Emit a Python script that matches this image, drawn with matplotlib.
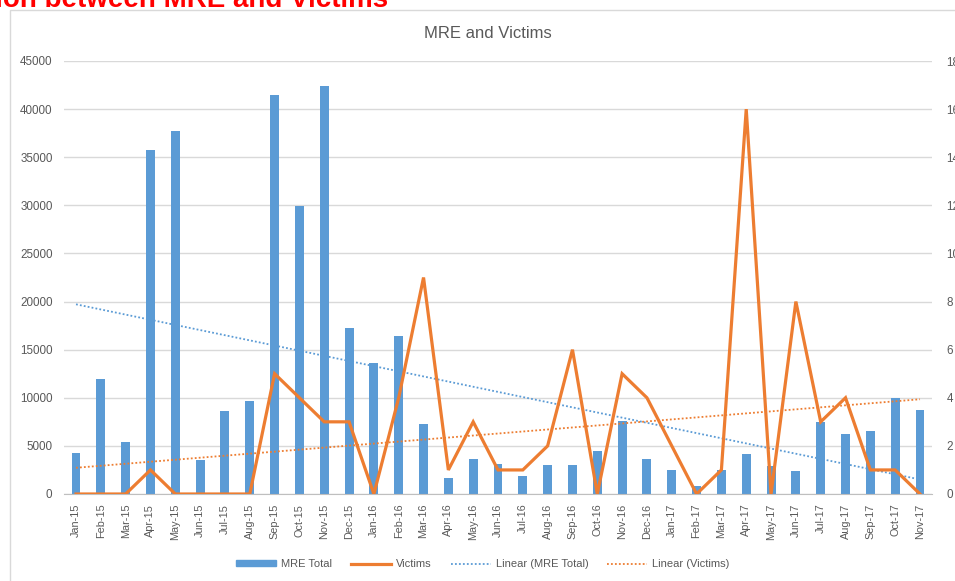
import numpy as np
import matplotlib
matplotlib.use("Agg")
import matplotlib.pyplot as plt
from matplotlib.patches import Rectangle
from matplotlib.lines import Line2D

plt.rcParams['font.family'] = ['Liberation Sans', 'DejaVu Sans']

months = ["Jan-15", "Feb-15", "Mar-15", "Apr-15", "May-15", "Jun-15", "Jul-15", "Aug-15",
          "Sep-15", "Oct-15", "Nov-15", "Dec-15", "Jan-16", "Feb-16", "Mar-16", "Apr-16",
          "May-16", "Jun-16", "Jul-16", "Aug-16", "Sep-16", "Oct-16", "Nov-16", "Dec-16",
          "Jan-17", "Feb-17", "Mar-17", "Apr-17", "May-17", "Jun-17", "Jul-17", "Aug-17",
          "Sep-17", "Oct-17", "Nov-17"]
mre_total = [4300, 12000, 5400, 35700, 37700, 3500, 8600, 9700,
             41500, 29900, 42400, 17200, 13600, 16400, 7300, 1700,
             3600, 3100, 1900, 3000, 3000, 4500, 7600, 3600,
             2500, 800, 2500, 4200, 2900, 2400, 7500, 6200,
             6500, 10000, 8700]
victims = [0, 0, 0, 1, 0, 0, 0, 0,
           5, 4, 3, 3, 0, 4, 9, 1,
           3, 1, 1, 2, 6, 0, 5, 4,
           2, 0, 1, 16, 0, 8, 3, 4,
           1, 1, 0]
left_ticks = [0, 5000, 10000, 15000, 20000, 25000, 30000, 35000, 40000, 45000]
right_ticks = [0, 2, 4, 6, 8, 10, 12, 14, 16, 18]

BLUE = "#5B9BD5"
ORANGE = "#ED7D31"
GRAY = "#595959"

W, H = 955, 581
fig = plt.figure(figsize=(W / 100, H / 100), dpi=100)

# chart frame
fig.patches.append(Rectangle((10 / W, -0.1), 2, 1 - 10 / H + 0.1, transform=fig.transFigure,
                             fill=False, edgecolor="#D9D9D9", lw=1))

# clipped red heading
fig.text(388 / W, 1 - 7 / H, "Correlation between MRE and Victims", ha="right", va="baseline",
         color="#FF0000", fontsize=20, fontweight="bold")

ax_l, ax_r = 63.6 / W, 932.4 / W
ax_b, ax_t = 1 - 494 / H, 1 - 61 / H
ax = fig.add_axes([ax_l, ax_b, ax_r - ax_l, ax_t - ax_b])
ax2 = ax.twinx()

x = np.arange(len(months))
ax.bar(x, mre_total, width=0.36, color=BLUE, zorder=2)
ax2.plot(x, victims, color=ORANGE, lw=2.3, zorder=3, solid_joinstyle="miter")

# linear trendlines
p1 = np.polyfit(x, mre_total, 1)
p2 = np.polyfit(x, victims, 1)
ax.plot(x, np.polyval(p1, x), color=BLUE, lw=1.3, ls=(0, (1, 1.2)), zorder=3)
ax2.plot(x, np.polyval(p2, x), color=ORANGE, lw=1.3, ls=(0, (1, 1.2)), zorder=3)

ax.set_xlim(-0.5, len(months) - 0.5)
ax.set_ylim(0, 45000)
ax2.set_ylim(0, 18)
ax.set_yticks(left_ticks)
ax2.set_yticks(right_ticks)
ax.set_yticklabels([str(v) for v in left_ticks])
ax2.set_yticklabels([str(v) for v in right_ticks])
ax.grid(axis="y", color="#D9D9D9", lw=1, zorder=0)
ax.set_axisbelow(True)
ax.set_xticks(x)
ax.set_xticklabels(months, rotation=90, fontsize=7.8, color=GRAY)
ax.tick_params(axis="y", length=0, pad=8, labelsize=8.4, labelcolor=GRAY)
ax2.tick_params(axis="y", length=0, pad=10, labelsize=8.4, labelcolor=GRAY)
ax.tick_params(axis="x", length=0, pad=7)
for a in (ax, ax2):
    for s in ("top", "left", "right"):
        a.spines[s].set_visible(False)
    a.spines["bottom"].set_color("#BFBFBF")
ax2.spines["bottom"].set_visible(False)

fig.text(488 / W, 1 - 33 / H, "MRE and Victims", color=GRAY, fontsize=12, ha="center", va="center")

handles = [Rectangle((0, 0), 1, 1, color=BLUE),
           Line2D([], [], color=ORANGE, lw=2.3),
           Line2D([], [], color=BLUE, lw=1.3, ls=(0, (1, 1.2))),
           Line2D([], [], color=ORANGE, lw=1.3, ls=(0, (1, 1.2)))]
labels = ["MRE Total", "Victims", "Linear (MRE Total)", "Linear (Victims)"]
leg = fig.legend(handles, labels, loc="center", bbox_to_anchor=(483 / W, 1 - 564 / H), ncol=4,
                 frameon=False, fontsize=8, handlelength=3.6, handleheight=0.35,
                 columnspacing=1.7, handletextpad=0.45)
for t in leg.get_texts():
    t.set_color(GRAY)

fig.savefig("out.png", dpi=100)
